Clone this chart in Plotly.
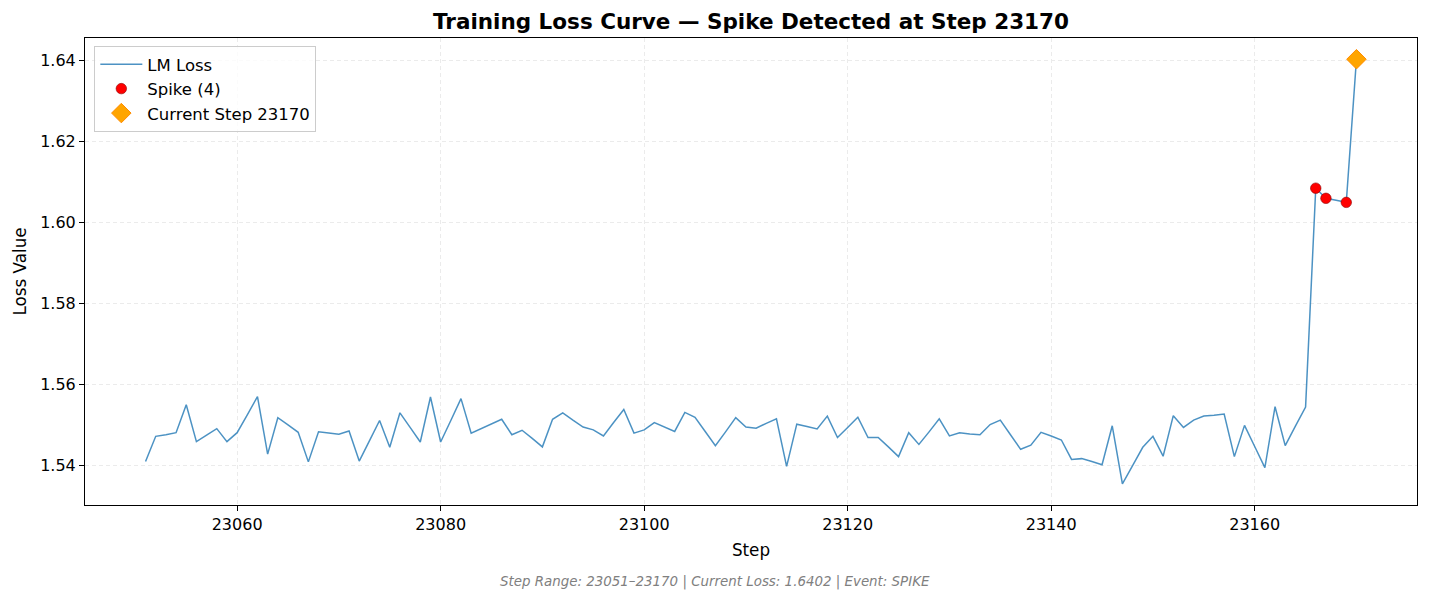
import plotly.graph_objects as go

FONT = "DejaVu Sans"

steps = list(range(23051, 23171))
lm_loss = [
    1.5410, 1.5472, 1.5476, 1.5481, 1.5550, 1.5459, 1.5475, 1.5491, 1.5459, 1.5481,
    1.5525, 1.5570, 1.5428, 1.5518, 1.5500, 1.5482, 1.5409, 1.5483, 1.5480, 1.5477,
    1.5485, 1.5411, 1.5461, 1.5511, 1.5445, 1.5530, 1.5494, 1.5458, 1.5569, 1.5458,
    1.5511, 1.5565, 1.5480, 1.5491, 1.5502, 1.5514, 1.5476, 1.5487, 1.5467, 1.5446,
    1.5514, 1.5530, 1.5512, 1.5495, 1.5488, 1.5473, 1.5506, 1.5538, 1.5480, 1.5488,
    1.5506, 1.5495, 1.5484, 1.5531, 1.5519, 1.5484, 1.5449, 1.5483, 1.5518, 1.5495,
    1.5492, 1.5504, 1.5515, 1.5398, 1.5502, 1.5496, 1.5490, 1.5522, 1.5469, 1.5494,
    1.5519, 1.5469, 1.5469, 1.5446, 1.5422, 1.5481, 1.5452, 1.5483, 1.5515, 1.5473,
    1.5481, 1.5478, 1.5476, 1.5501, 1.5512, 1.5476, 1.5440, 1.5450, 1.5482, 1.5473,
    1.5463, 1.5415, 1.5417, 1.5410, 1.5402, 1.5498, 1.5355, 1.5400, 1.5445, 1.5472,
    1.5423, 1.5523, 1.5494, 1.5512, 1.5522, 1.5524, 1.5527, 1.5422, 1.5499, 1.5447,
    1.5395, 1.5545, 1.5449, 1.5497, 1.5544, 1.6084, 1.6059, 1.6054, 1.6049, 1.6402,
]
spike_steps = [23166, 23167, 23169, 23170]
current_step = 23170

x_ticks = [23060, 23080, 23100, 23120, 23140, 23160]
y_ticks = [1.54, 1.56, 1.58, 1.60, 1.62, 1.64]

loss_by_step = dict(zip(steps, lm_loss))
spike_loss = [loss_by_step[s] for s in spike_steps]
current_loss = loss_by_step[current_step]

fig = go.Figure()

fig.add_trace(
    go.Scatter(
        x=steps,
        y=lm_loss,
        name="LM Loss",
        mode="lines",
        line=dict(color="rgba(31,119,180,0.8)", width=1.5),
    )
)
fig.add_trace(
    go.Scatter(
        x=spike_steps,
        y=spike_loss,
        name=f"Spike ({len(spike_steps)})",
        mode="markers",
        marker=dict(color="red", size=10.5, line=dict(color="darkred", width=0.6)),
    )
)
fig.add_trace(
    go.Scatter(
        x=[current_step],
        y=[current_loss],
        name=f"Current Step {current_step}",
        mode="markers",
        marker=dict(
            symbol="diamond",
            color="orange",
            size=15,
            line=dict(color="darkorange", width=1),
        ),
    )
)

x_pad = (steps[-1] - steps[0]) * 0.05
y_lo, y_hi = min(lm_loss), max(lm_loss)
y_pad = (y_hi - y_lo) * 0.05

axis_style = dict(
    showline=True,
    linecolor="black",
    linewidth=1,
    mirror=True,
    ticks="outside",
    ticklen=5,
    tickcolor="black",
    showgrid=True,
    gridcolor="#ebebeb",
    griddash="4px,3px",
    gridwidth=1,
    zeroline=False,
    tickfont=dict(family=FONT, size=16, color="black"),
)

fig.update_xaxes(
    range=[steps[0] - x_pad, steps[-1] + x_pad],
    tickvals=x_ticks,
    tickformat="d",
    title=dict(text="Step", font=dict(family=FONT, size=16.8, color="black"), standoff=11),
    **axis_style,
)
fig.update_yaxes(
    range=[y_lo - y_pad, y_hi + y_pad],
    tickvals=y_ticks,
    tickformat=".2f",
    title=dict(text="Loss Value", font=dict(family=FONT, size=16.8, color="black"), standoff=9),
    **axis_style,
)

fig.update_layout(
    width=1429,
    height=602,
    margin=dict(l=85, r=12, t=38, b=97),
    paper_bgcolor="white",
    plot_bgcolor="white",
    font=dict(family=FONT, color="black"),
    title=dict(
        text=f"<b>Training Loss Curve — Spike Detected at Step {current_step}</b>",
        font=dict(family=FONT, size=21.5, color="black"),
        x=0.5,
        xref="paper",
        xanchor="center",
        y=1 - 21 / 602,
        yref="container",
        yanchor="middle",
    ),
    legend=dict(
        x=0.007,
        y=0.983,
        xanchor="left",
        yanchor="top",
        bgcolor="rgba(255,255,255,0.8)",
        bordercolor="#cccccc",
        borderwidth=1,
        itemwidth=42,
        font=dict(family=FONT, size=16.5, color="black"),
    ),
    showlegend=True,
)

fig.add_annotation(
    text=(
        f"<i>Step Range: {steps[0]}–{steps[-1]} | Current Loss: {current_loss:.4f}"
        " | Event: SPIKE</i>"
    ),
    xref="paper",
    yref="paper",
    x=(714.5 - 85) / 1332,
    y=-(582 - 505) / 467,
    xanchor="center",
    yanchor="middle",
    showarrow=False,
    font=dict(family=FONT, size=13.4, color="gray"),
)

# drop the default 8px body margin so the figure sits at the page corner
fig.write_html(
    "out.html",
    config={"displayModeBar": False},
    post_script="document.body.style.margin = '0';",
)
